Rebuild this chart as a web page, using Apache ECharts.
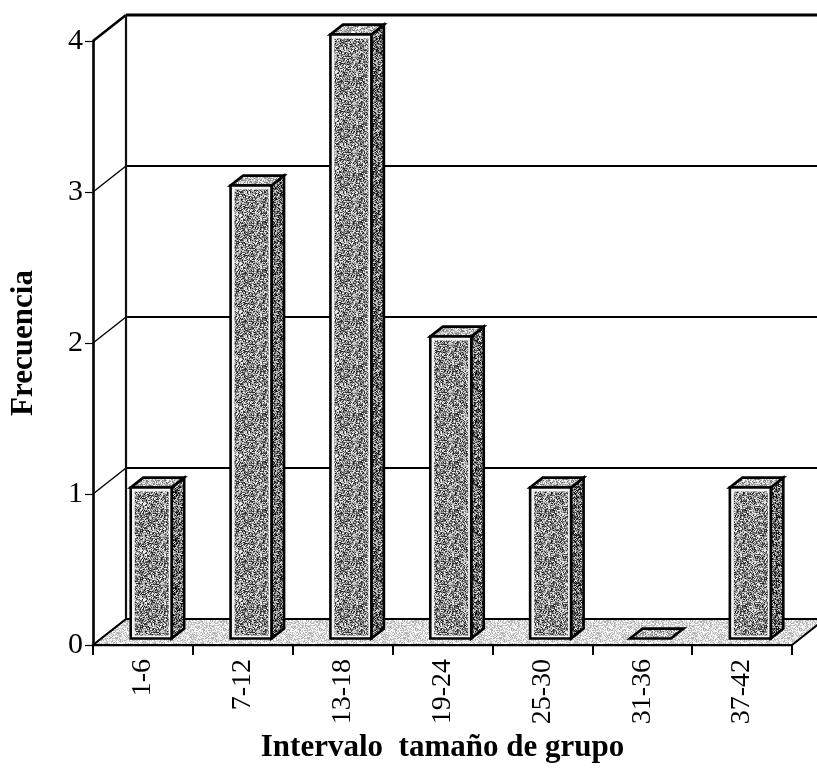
<!DOCTYPE html>
<html>
<head>
<meta charset="utf-8">
<script src="https://cdn.jsdelivr.net/npm/echarts@6/dist/echarts.min.js"></script>
<style>
  html, body { margin: 0; padding: 0; background: #ffffff; }
  #chart { width: 817px; height: 772px; }
</style>
</head>
<body>
<div id="chart"></div>
<script>
// Group-size intervals and how many groups fall in each
const categories = ['1-6', '7-12', '13-18', '19-24', '25-30', '31-36', '37-42'];
const frequencies = [1, 3, 4, 2, 1, 0, 1];
const yTicks = [0, 1, 2, 3, 4];

const SERIF = '"Liberation Serif", "Times New Roman", serif';
// Oblique depth vector of the pseudo-3D box (pixels)
const DEPTH = [33, -26];
const BAR_FRONT = 0.25;   // depth fraction of bar front face
const BAR_BACK = 0.63;    // depth fraction of bar back face
const BAR_WIDTH = 0.41;   // fraction of category band

// Halftone-style stipple fill: a fixed hashed grain around a grey level
function stipple(level, spread, seed) {
  const size = 48;
  const cv = document.createElement('canvas');
  cv.width = size; cv.height = size;
  const ctx = cv.getContext('2d');
  const img = ctx.createImageData(size, size);
  for (let y = 0; y < size; y++) {
    for (let x = 0; x < size; x++) {
      let h = (x * 374761393 + y * 668265263 + seed * 2246822519) | 0;
      h = Math.imul(h ^ (h >>> 13), 1274126177);
      h = (h ^ (h >>> 16)) >>> 0;
      const t = (h % 1000) / 1000;
      let g = level + (t - 0.5) * spread;
      g = Math.max(0, Math.min(255, Math.round(g)));
      const i = (y * size + x) * 4;
      img.data[i] = img.data[i + 1] = img.data[i + 2] = g;
      img.data[i + 3] = 255;
    }
  }
  ctx.putImageData(img, 0, 0);
  return { image: cv, repeat: 'repeat' };
}

const FILL_FRONT = stipple(138, 230, 1);
const FILL_SIDE = stipple(110, 240, 2);
const FILL_TOP = stipple(185, 160, 3);
const FILL_FLOOR = stipple(220, 110, 4);

const chart = echarts.init(document.getElementById('chart'), null, { renderer: 'canvas' });

function shift(p, f) {
  return [p[0] + DEPTH[0] * f, p[1] + DEPTH[1] * f];
}

// Floor, back wall and side wall with their gridlines
function renderWalls(params, api) {
  const n = categories.length;
  const bw = api.size([1, 0])[0];
  const children = [];
  const yMax = yTicks[yTicks.length - 1];
  const fl = api.coord([0, 0]); fl[0] -= bw / 2;
  const fr = api.coord([n - 1, 0]); fr[0] += bw / 2;
  const bl = shift(fl, 1), br = shift(fr, 1);
  children.push({
    type: 'polygon',
    shape: { points: [fl, fr, br, bl] },
    style: { fill: FILL_FLOOR, stroke: '#000', lineWidth: 2 }
  });
  yTicks.forEach(function (v) {
    const f = api.coord([0, v]); f[0] -= bw / 2;
    const g = api.coord([n - 1, v]); g[0] += bw / 2;
    const b = shift(f, 1), c = shift(g, 1);
    const w = v === yMax ? 3 : 1.8;
    children.push({ type: 'line', shape: { x1: f[0], y1: f[1], x2: b[0], y2: b[1] },
      style: { stroke: '#000', lineWidth: v === yMax ? 2.6 : 1.4 } });
    if (v > 0) {
      children.push({ type: 'line', shape: { x1: b[0], y1: b[1], x2: c[0] + 40, y2: c[1] },
        style: { stroke: '#000', lineWidth: w } });
    }
  });
  const top = shift(api.coord([0, yMax]), 1); top[0] -= bw / 2;
  children.push({ type: 'line', shape: { x1: bl[0], y1: bl[1], x2: top[0], y2: top[1] },
    style: { stroke: '#111', lineWidth: 2.2 } });
  return { type: 'group', children: children };
}

// One oblique box per interval
function renderBar(params, api) {
  const idx = api.value(0);
  const v = api.value(1);
  const bw = api.size([1, 0])[0];
  const w = bw * BAR_WIDTH;
  const base = shift(api.coord([idx, 0]), BAR_FRONT);
  const top = shift(api.coord([idx, v]), BAR_FRONT);
  const x0 = base[0] - w / 2, x1 = base[0] + w / 2;
  const yb = base[1], yt = top[1];
  const dx = DEPTH[0] * (BAR_BACK - BAR_FRONT), dy = DEPTH[1] * (BAR_BACK - BAR_FRONT);
  const edge = { stroke: '#000', lineWidth: 2.6, lineJoin: 'miter' };
  const children = [];
  if (v > 0) {
    children.push({ type: 'polygon',
      shape: { points: [[x1, yb], [x1 + dx, yb + dy], [x1 + dx, yt + dy], [x1, yt]] },
      style: Object.assign({ fill: FILL_SIDE }, edge) });
  }
  children.push({ type: 'polygon',
    shape: { points: [[x0, yt], [x1, yt], [x1 + dx, yt + dy], [x0 + dx, yt + dy]] },
    style: Object.assign({ fill: FILL_TOP }, edge) });
  if (v > 0) {
    children.push({ type: 'rect',
      shape: { x: x0, y: yt, width: w, height: yb - yt },
      style: Object.assign({ fill: '#f4f4f4' }, edge) });
    children.push({ type: 'rect',
      shape: { x: x0 + 4, y: yt + 4, width: w - 7, height: yb - yt - 7 },
      style: { fill: FILL_FRONT } });
  }
  return { type: 'group', children: children };
}

chart.setOption({
  animation: false,
  backgroundColor: '#ffffff',
  grid: { left: 90, right: 25, top: 41, bottom: 127, containLabel: false },
  xAxis: {
    type: 'category',
    data: categories,
    boundaryGap: true,
    name: 'Intervalo  tamaño de grupo',
    nameLocation: 'middle',
    nameGap: 84,
    nameTextStyle: { fontFamily: SERIF, fontSize: 31, fontWeight: 'bold', color: '#000' },
    axisLine: { show: true, lineStyle: { color: '#000', width: 2.4 } },
    axisTick: { show: true, length: 10, alignWithLabel: false, lineStyle: { color: '#000', width: 2 } },
    axisLabel: { rotate: 90, margin: 14, fontFamily: SERIF, fontSize: 28, color: '#000' },
    splitLine: { show: false }
  },
  yAxis: {
    type: 'value',
    min: 0,
    max: 4,
    interval: 1,
    name: 'Frecuencia',
    nameLocation: 'middle',
    nameRotate: 90,
    nameGap: 54,
    nameTextStyle: { fontFamily: SERIF, fontSize: 31, fontWeight: 'bold', color: '#000' },
    axisLine: { show: true, lineStyle: { color: '#000', width: 2.6 } },
    axisTick: { show: true, length: 8, lineStyle: { color: '#000', width: 1.2 } },
    axisLabel: { margin: 10, fontFamily: SERIF, fontSize: 30, color: '#000' },
    splitLine: { show: false }
  },
  series: [
    {
      type: 'custom',
      silent: true,
      clip: false,
      z: 1,
      renderItem: renderWalls,
      data: [[0, 0]]
    },
    {
      type: 'custom',
      silent: true,
      clip: false,
      z: 3,
      renderItem: renderBar,
      encode: { x: 0, y: 1 },
      data: frequencies.map(function (f, i) { return [i, f]; })
    }
  ]
});
</script>
</body>
</html>
